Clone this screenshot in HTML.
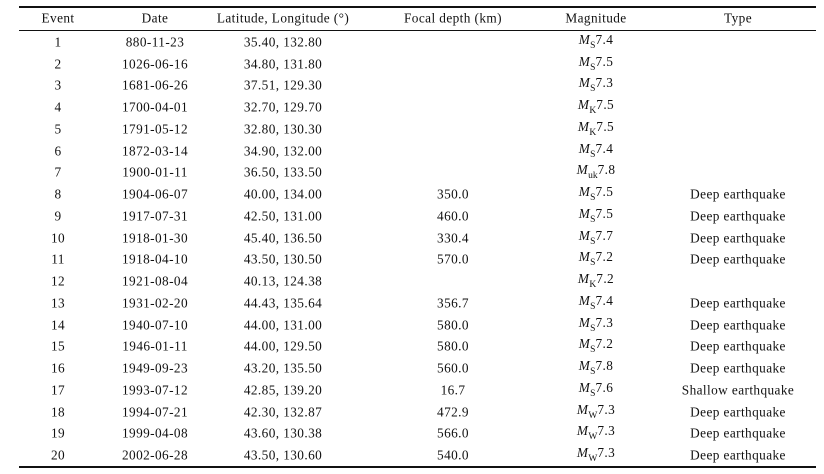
<!DOCTYPE html>
<html><head><meta charset="utf-8"><style>
body{margin:0;width:824px;height:474px;background:#fff;font-family:"Liberation Serif",serif;font-size:13.3px;letter-spacing:0.4px;color:#111;position:relative;overflow:hidden}
.l{position:absolute;left:19px;width:797px;background:#111}
.c{position:absolute;transform:translate(-50%,-50%);white-space:nowrap;line-height:1}
sub{font-size:9.5px;font-style:normal;vertical-align:-4px;letter-spacing:0}
i{font-style:italic}
</style></head><body>
<div class="l" style="top:6px;height:2px"></div>
<div class="l" style="top:30px;height:1px"></div>
<div class="l" style="top:466px;height:2px"></div>
<div id="t"></div>
<script>
var cols=[58,155,283,453,596,738];
var hdr=["Event","Date","Latitude, Longitude (°)","Focal depth (km)","Magnitude","Type"];
var rows=[
["880-11-23","35.40, 132.80","","S7.4",""],
["1026-06-16","34.80, 131.80","","S7.5",""],
["1681-06-26","37.51, 129.30","","S7.3",""],
["1700-04-01","32.70, 129.70","","K7.5",""],
["1791-05-12","32.80, 130.30","","K7.5",""],
["1872-03-14","34.90, 132.00","","S7.4",""],
["1900-01-11","36.50, 133.50","","uk7.8",""],
["1904-06-07","40.00, 134.00","350.0","S7.5","Deep earthquake"],
["1917-07-31","42.50, 131.00","460.0","S7.5","Deep earthquake"],
["1918-01-30","45.40, 136.50","330.4","S7.7","Deep earthquake"],
["1918-04-10","43.50, 130.50","570.0","S7.2","Deep earthquake"],
["1921-08-04","40.13, 124.38","","K7.2",""],
["1931-02-20","44.43, 135.64","356.7","S7.4","Deep earthquake"],
["1940-07-10","44.00, 131.00","580.0","S7.3","Deep earthquake"],
["1946-01-11","44.00, 129.50","580.0","S7.2","Deep earthquake"],
["1949-09-23","43.20, 135.50","560.0","S7.8","Deep earthquake"],
["1993-07-12","42.85, 139.20","16.7","S7.6","Shallow earthquake"],
["1994-07-21","42.30, 132.87","472.9","W7.3","Deep earthquake"],
["1999-04-08","43.60, 130.38","566.0","W7.3","Deep earthquake"],
["2002-06-28","43.50, 130.60","540.0","W7.3","Deep earthquake"]];
var h="";
function cell(x,y,s){h+='<div class="c" style="left:'+x+'px;top:'+y+'px">'+s+'</div>';}
hdr.forEach(function(s,i){cell(cols[i],18,s);});
rows.forEach(function(r,k){
 var y=42+k*21.74;
 cell(cols[0],y,k+1);cell(cols[1],y,r[0]);cell(cols[2],y,r[1]);cell(cols[3],y,r[2]);
 var m=r[3].match(/^([A-Za-z]+)(.*)$/);
 cell(cols[4],y,'<i>M</i><sub>'+m[1]+'</sub>'+m[2]);
 cell(cols[5],y,r[4]);
});
document.getElementById("t").innerHTML=h;
</script>
</body></html>
